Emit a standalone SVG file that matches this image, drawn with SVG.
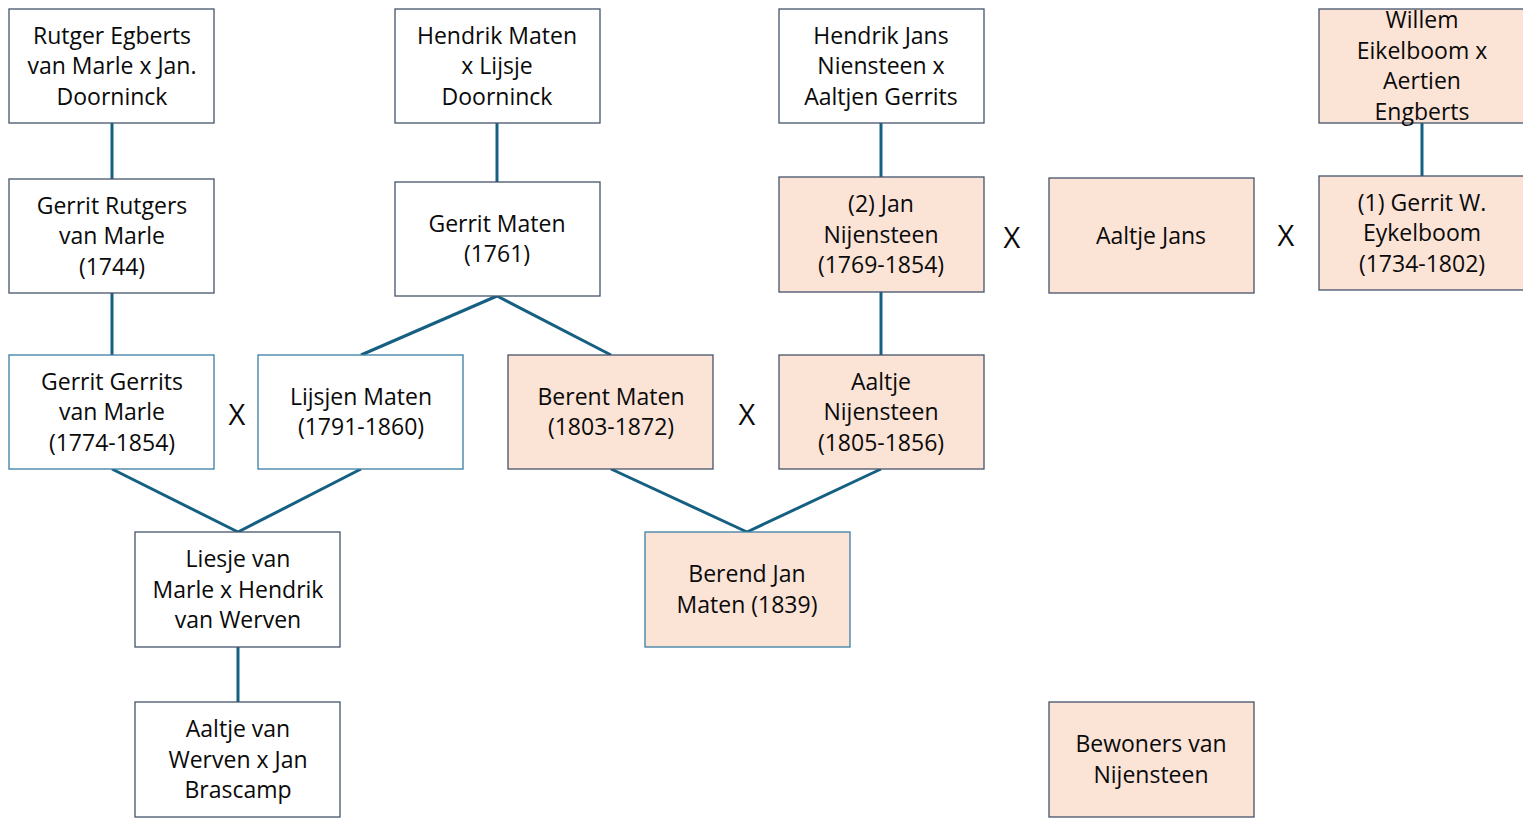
<svg xmlns="http://www.w3.org/2000/svg" width="1523" height="819" viewBox="0 0 1523 819">
<style>
.n rect{fill:#ffffff;stroke:#44546A;stroke-width:1.3}
.n.p rect{fill:#FBE3D6}
.n.b rect{stroke:#3A7FA3}
text{font-family:"Open Sans","Liberation Sans",sans-serif;font-size:23px;fill:#0a0a0a;text-anchor:middle}
.x{font-size:29px}
#connectors line{stroke:#156082;stroke-width:3;stroke-linecap:butt}
</style>
<rect width="1523" height="819" fill="#ffffff"/>
<g id="connectors">
<line x1="112" y1="123" x2="112" y2="179"/>
<line x1="112" y1="293" x2="112" y2="355"/>
<line x1="497" y1="123" x2="497" y2="182"/>
<line x1="497" y1="296" x2="361" y2="355"/>
<line x1="497" y1="296" x2="611" y2="355"/>
<line x1="112" y1="469" x2="238" y2="532"/>
<line x1="361" y1="469" x2="238" y2="532"/>
<line x1="238" y1="647" x2="238" y2="702"/>
<line x1="611" y1="469" x2="747" y2="532"/>
<line x1="881" y1="469" x2="747" y2="532"/>
<line x1="881" y1="123" x2="881" y2="177"/>
<line x1="881" y1="292" x2="881" y2="355"/>
<line x1="1422" y1="123" x2="1422" y2="176"/>
</g>
<g id="rutger" class="n"><rect x="9" y="9" width="205" height="114"/>
<text x="112" y="43.5">Rutger Egberts</text><text x="112" y="74">van Marle x Jan.</text><text x="112" y="104.5">Doorninck</text></g>
<g id="gerrit-rutgers" class="n"><rect x="9" y="179" width="205" height="114"/>
<text x="112" y="213.5">Gerrit Rutgers</text><text x="112" y="244">van Marle</text><text x="112" y="274.5">(1744)</text></g>
<g id="gerrit-gerrits" class="n b"><rect x="9" y="355" width="205" height="114"/>
<text x="112" y="389.5">Gerrit Gerrits</text><text x="112" y="420">van Marle</text><text x="112" y="450.5">(1774-1854)</text></g>
<g id="lijsjen" class="n b"><rect x="258" y="355" width="205" height="114"/>
<text x="361" y="404.75">Lijsjen Maten</text><text x="361" y="435.25">(1791-1860)</text></g>
<g id="liesje" class="n"><rect x="135" y="532" width="205" height="115"/>
<text x="238" y="567">Liesje van</text><text x="238" y="597.5">Marle x Hendrik</text><text x="238" y="628">van Werven</text></g>
<g id="aaltje-werven" class="n"><rect x="135" y="702" width="205" height="115"/>
<text x="238" y="737">Aaltje van</text><text x="238" y="767.5">Werven x Jan</text><text x="238" y="798">Brascamp</text></g>
<g id="hendrik-maten" class="n"><rect x="395" y="9" width="205" height="114"/>
<text x="497" y="43.5">Hendrik Maten</text><text x="497" y="74">x Lijsje</text><text x="497" y="104.5">Doorninck</text></g>
<g id="gerrit-maten" class="n"><rect x="395" y="182" width="205" height="114"/>
<text x="497" y="231.75">Gerrit Maten</text><text x="497" y="262.25">(1761)</text></g>
<g id="berent" class="n p"><rect x="508" y="355" width="205" height="114"/>
<text x="611" y="404.75">Berent Maten</text><text x="611" y="435.25">(1803-1872)</text></g>
<g id="berend-jan" class="n p b"><rect x="645" y="532" width="205" height="115"/>
<text x="747" y="582.25">Berend Jan</text><text x="747" y="612.75">Maten (1839)</text></g>
<g id="hendrik-jans" class="n"><rect x="779" y="9" width="205" height="114"/>
<text x="881" y="43.5">Hendrik Jans</text><text x="881" y="74">Niensteen x</text><text x="881" y="104.5">Aaltjen Gerrits</text></g>
<g id="jan" class="n p"><rect x="779" y="177" width="205" height="115"/>
<text x="881" y="212">(2) Jan</text><text x="881" y="242.5">Nijensteen</text><text x="881" y="273">(1769-1854)</text></g>
<g id="aaltje-nijensteen" class="n p"><rect x="779" y="355" width="205" height="114"/>
<text x="881" y="389.5">Aaltje</text><text x="881" y="420">Nijensteen</text><text x="881" y="450.5">(1805-1856)</text></g>
<g id="aaltje-jans" class="n p"><rect x="1049" y="178" width="205" height="115"/>
<text x="1151" y="243.5">Aaltje Jans</text></g>
<g id="willem" class="n p"><rect x="1319" y="9" width="206" height="114"/>
<text x="1422" y="28.25">Willem</text><text x="1422" y="58.75">Eikelboom x</text><text x="1422" y="89.25">Aertien</text><text x="1422" y="119.75">Engberts</text></g>
<g id="gerrit-w" class="n p"><rect x="1319" y="176" width="206" height="114"/>
<text x="1422" y="210.5">(1) Gerrit W.</text><text x="1422" y="241">Eykelboom</text><text x="1422" y="271.5">(1734-1802)</text></g>
<g id="bewoners" class="n p"><rect x="1049" y="702" width="205" height="115"/>
<text x="1151" y="752.25">Bewoners van</text><text x="1151" y="782.75">Nijensteen</text></g>
<g id="marks">
<text class="x" x="237" y="425">X</text>
<text class="x" x="747" y="425">X</text>
<text class="x" x="1012" y="248">X</text>
<text class="x" x="1286" y="246">X</text>
</g>
</svg>
